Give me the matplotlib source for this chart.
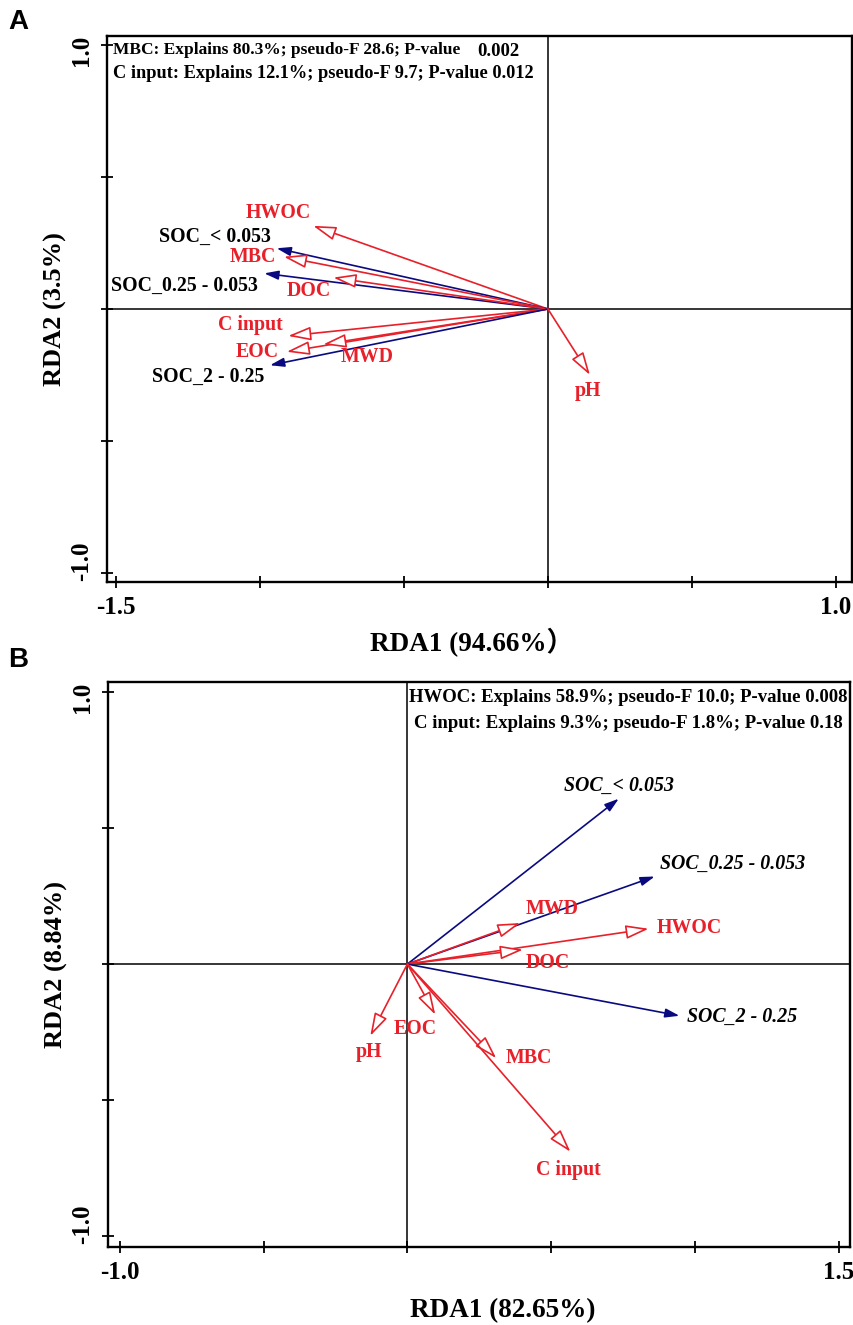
import matplotlib
matplotlib.use("Agg")
import matplotlib.pyplot as plt
from matplotlib.transforms import ScaledTranslation

plt.rcParams['font.family'] = ['Liberation Serif', 'Noto Sans CJK SC', 'DejaVu Sans']
plt.rcParams['font.weight'] = 'bold'

RED = '#e8202a'
NAVY = '#0a0a80'

# ---------------- data: panel A ----------------
a_names = ['HWOC', 'SOC_< 0.053', 'MBC', 'SOC_0.25 - 0.053', 'DOC',
           'C input', 'EOC', 'MWD', 'SOC_2 - 0.25', 'pH']
a_rda1 = [-0.815, -0.942, -0.917, -0.985, -0.745, -0.902, -0.907, -0.780, -0.965, 0.146]
a_rda2 = [0.315, 0.230, 0.198, 0.135, 0.119, -0.102, -0.162, -0.134, -0.213, -0.250]
a_kind = ['env', 'soc', 'env', 'soc', 'env', 'env', 'env', 'env', 'soc', 'env']
a_stats = ['MBC: Explains 80.3%; pseudo-F 28.6; P-value', '0.002',
           'C input: Explains 12.1%; pseudo-F 9.7; P-value 0.012']
a_xlabel = 'RDA1 (94.66%\uff09'
a_ylabel = 'RDA2 (3.5%)'

# ---------------- data: panel B ----------------
b_names = ['SOC_< 0.053', 'SOC_0.25 - 0.053', 'MWD', 'HWOC', 'DOC',
           'SOC_2 - 0.25', 'EOC', 'pH', 'MBC', 'C input']
b_rda1 = [0.735, 0.860, 0.393, 0.839, 0.402, 0.946, 0.097, -0.129, 0.309, 0.567]
b_rda2 = [0.608, 0.322, 0.151, 0.130, 0.053, -0.190, -0.186, -0.264, -0.346, -0.690]
b_kind = ['soc', 'soc', 'env', 'env', 'env', 'soc', 'env', 'env', 'env', 'env']
b_stats = ['HWOC: Explains 58.9%; pseudo-F 10.0; P-value 0.008',
           'C input: Explains 9.3%; pseudo-F 1.8%; P-value 0.18']
b_xlabel = 'RDA1 (82.65%)'
b_ylabel = 'RDA2 (8.84%)'

# label offsets in pixels (dx right, dy down) relative to arrow tips
a_off = {'HWOC': (-35, -13), 'SOC_< 0.053': (-62, -11), 'MBC': (-31, 0),
         'SOC_0.25 - 0.053': (-80, 13), 'DOC': (-25, 13), 'C input': (-38, -11),
         'EOC': (-29, 0), 'MWD': (44, 13), 'SOC_2 - 0.25': (-62, 12), 'pH': (-2, 16)}
b_off = {'SOC_< 0.053': (0, -13), 'SOC_0.25 - 0.053': (78, -13), 'MWD': (32, -14),
         'HWOC': (41, -1), 'DOC': (25, 13), 'SOC_2 - 0.25': (63, 1),
         'EOC': (-20, 14), 'pH': (-1, 16), 'MBC': (33, 0), 'C input': (-2, 18)}

W, H = 854, 1325
fig = plt.figure(figsize=(W / 100, H / 100), dpi=100)


def add_axes_px(l, t, r, b):
    return fig.add_axes([l / W, 1 - b / H, (r - l) / W, (b - t) / H])


def style_axes(ax, xlim, ylim, xticks, xticklabels, yticks, yticklabels):
    ax.set_xlim(*xlim)
    ax.set_ylim(*ylim)
    for s in ax.spines.values():
        s.set_linewidth(1.7)
        s.set_color('black')
    ax.axhline(0, color='black', lw=1.1, zorder=1)
    ax.axvline(0, color='black', lw=1.1, zorder=1)
    ax.set_xticks(xticks)
    ax.set_xticklabels(xticklabels, fontsize=18, fontweight='bold')
    ax.set_yticks(yticks)
    ax.set_yticklabels(yticklabels, fontsize=18, fontweight='bold',
                       rotation=90, va='center')
    ax.tick_params(direction='inout', length=8, width=1.3, pad=6)
    # labels at the axis ends sit slightly inward, as in the original
    labs = ax.get_yticklabels()
    labs[0].set_transform(labs[0].get_transform() +
                          ScaledTranslation(0, 12 / 100, fig.dpi_scale_trans))
    labs[-1].set_transform(labs[-1].get_transform() +
                           ScaledTranslation(0, -5 / 100, fig.dpi_scale_trans))


def draw_arrows(ax, names, xs, ys, kinds, offs, italic_soc):
    for n, x, y, k in zip(names, xs, ys, kinds):
        if k == 'env':
            ap = dict(arrowstyle='-|>,head_length=1.4,head_width=0.42',
                      fc='white', ec=RED, lw=1.2, shrinkA=0, shrinkB=0,
                      mutation_scale=10)
            tc = RED
            st = 'normal'
        else:
            ap = dict(arrowstyle='-|>,head_length=0.85,head_width=0.27',
                      fc=NAVY, ec=NAVY, lw=1.2, shrinkA=0, shrinkB=0,
                      mutation_scale=10)
            tc = 'black'
            st = 'italic' if italic_soc else 'normal'
        ax.annotate('', xy=(x, y), xytext=(0, 0), arrowprops=ap, zorder=3)
        dx, dy = offs[n]
        ax.annotate(n, xy=(x, y), xytext=(dx, -dy), textcoords='offset pixels',
                    ha='center', va='center', color=tc, fontsize=14.3,
                    fontweight='bold', style=st, zorder=4)


# ---------------- panel A ----------------
axA = add_axes_px(107, 36, 852, 582)
style_axes(axA, (-1.531, 1.056), (-1.034, 1.034),
           [-1.5, -1.0, -0.5, 0, 0.5, 1.0], ['-1.5', '', '', '', '', '1.0'],
           [-1.0, -0.5, 0, 0.5, 1.0], ['-1.0', '', '', '', '1.0'])
draw_arrows(axA, a_names, a_rda1, a_rda2, a_kind, a_off, False)
axA.set_xlabel(a_xlabel, fontsize=19.5, fontweight='bold')
axA.xaxis.set_label_coords(0.49, -0.085)
axA.set_ylabel(a_ylabel, fontsize=19, fontweight='bold')
axA.yaxis.set_label_coords(-0.054, 0.5)
axA.text(0.008, 0.975, a_stats[0], transform=axA.transAxes, ha='left', va='center',
         fontsize=12.5, fontweight='bold')
axA.text(0.4966, 0.972, a_stats[1], transform=axA.transAxes, ha='left', va='center',
         fontsize=13.5, fontweight='bold')
axA.text(0.008, 0.931, a_stats[2], transform=axA.transAxes, ha='left', va='center',
         fontsize=13.2, fontweight='bold')
fig.text(18 / W, 1 - 22 / H, 'A', family='Liberation Sans', fontweight='bold',
         fontsize=20, ha='center', va='center')

# ---------------- panel B ----------------
axB = add_axes_px(108, 682, 850, 1247)
style_axes(axB, (-1.041, 1.539), (-1.04, 1.037),
           [-1.0, -0.5, 0, 0.5, 1.0, 1.5], ['-1.0', '', '', '', '', '1.5'],
           [-1.0, -0.5, 0, 0.5, 1.0], ['-1.0', '', '', '', '1.0'])
draw_arrows(axB, b_names, b_rda1, b_rda2, b_kind, b_off, True)
axB.set_xlabel(b_xlabel, fontsize=19.5, fontweight='bold')
axB.xaxis.set_label_coords(0.532, -0.09)
axB.set_ylabel(b_ylabel, fontsize=19, fontweight='bold')
axB.yaxis.set_label_coords(-0.054, 0.5)
axB.text(0.701, 0.973, b_stats[0], transform=axB.transAxes, ha='center', va='center',
         fontsize=13.5, fontweight='bold')
axB.text(0.701, 0.927, b_stats[1], transform=axB.transAxes, ha='center', va='center',
         fontsize=13.5, fontweight='bold')
fig.text(18 / W, 1 - 660 / H, 'B', family='Liberation Sans', fontweight='bold',
         fontsize=20, ha='center', va='center')

fig.savefig('out.png', dpi=100)
